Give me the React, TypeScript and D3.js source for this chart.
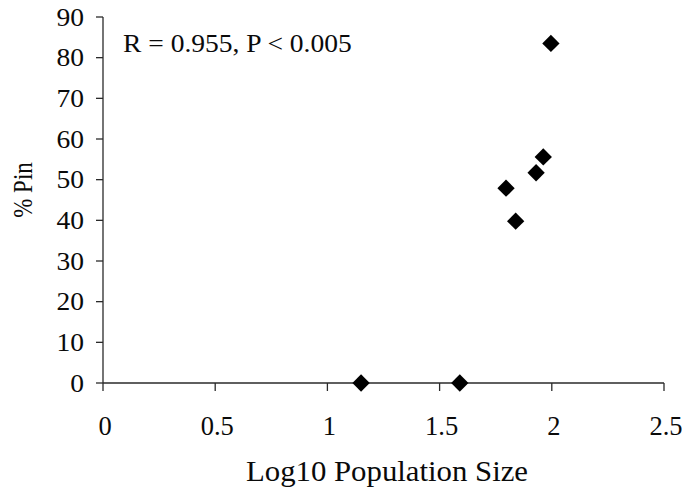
import React from "react";
import * as d3 from "d3";

// Log10 population size vs. percentage of pin morphs
const logSize = [1.15, 1.59, 1.796, 1.839, 1.93, 1.962, 1.996];
const pinPct = [0, 0, 47.9, 39.8, 51.7, 55.6, 83.5];

const xTicks = [0, 0.5, 1, 1.5, 2, 2.5];
const xTickLabels = ["0", "0.5", "1", "1.5", "2", "2.5"];
const yTicks = [0, 10, 20, 30, 40, 50, 60, 70, 80, 90];

const statLabel = "R = 0.955, P < 0.005";
const xTitle = "Log10 Population Size";
const yTitle = "% Pin";

const W = 682;
const H = 492;
const FONT = '"Liberation Serif", "DejaVu Serif", "Times New Roman", serif';

type LabelProps = {
  x: number;
  y: number;
  size: number;
  sx?: number;
  rotate?: number;
  anchor?: "start" | "middle" | "end";
  dy?: string;
  children: React.ReactNode;
};

// Text drawn with an optional horizontal glyph stretch
function Label({ x, y, size, sx = 1, rotate = 0, anchor = "start", dy, children }: LabelProps) {
  return (
    <text
      transform={`translate(${x},${y}) rotate(${rotate}) scale(${sx},1)`}
      textAnchor={anchor}
      dy={dy}
      fontSize={size}
      fill="#0a0a0a"
      style={{ fontFamily: FONT }}
    >
      {children}
    </text>
  );
}

export default function App() {
  const x = d3.scaleLinear().domain([0, 2.5]).range([103, 664]);
  const y = d3.scaleLinear().domain([0, 90]).range([383, 17]);
  const marker = d3.symbol(d3.symbolSquare, 150)() as string;
  const axisColor = "#2a2a2a";

  return (
    <svg
      width={W}
      height={H}
      viewBox={`0 0 ${W} ${H}`}
      style={{ position: "absolute", left: 0, top: 0, background: "#ffffff" }}
    >
      {/* y axis */}
      <line x1={x(0)} x2={x(0)} y1={y(90)} y2={y(0)} stroke={axisColor} strokeWidth={1.3} />
      {yTicks.map((t) => (
        <g key={`y${t}`}>
          <line x1={x(0) - 7} x2={x(0)} y1={y(t)} y2={y(t)} stroke={axisColor} strokeWidth={1.3} />
          <Label x={x(0) - 19} y={y(t)} dy="0.34em" anchor="end" size={25.5} sx={1.08}>
            {t}
          </Label>
        </g>
      ))}

      {/* x axis */}
      <line x1={x(0)} x2={x(2.5)} y1={y(0)} y2={y(0)} stroke={axisColor} strokeWidth={1.3} />
      {xTicks.map((t, i) => (
        <g key={`x${t}`}>
          <line x1={x(t)} x2={x(t)} y1={y(0)} y2={y(0) + 8} stroke={axisColor} strokeWidth={1.3} />
          <Label x={x(t) + 2} y={435} anchor="middle" size={26.5} sx={1.0}>
            {xTickLabels[i]}
          </Label>
        </g>
      ))}

      {/* points */}
      {logSize.map((v, i) => (
        <path
          key={`p${i}`}
          d={marker}
          transform={`translate(${x(v)},${y(pinPct[i])}) rotate(45)`}
          fill="#000"
        />
      ))}

      {/* annotation */}
      <Label x={123} y={52} size={25.5} sx={1.08}>
        {statLabel}
      </Label>

      {/* axis titles */}
      <Label x={387} y={481} anchor="middle" size={28.5} sx={1.08}>
        {xTitle}
      </Label>
      <Label x={32} y={190} rotate={-90} anchor="middle" size={28} sx={0.82}>
        {yTitle}
      </Label>
    </svg>
  );
}
